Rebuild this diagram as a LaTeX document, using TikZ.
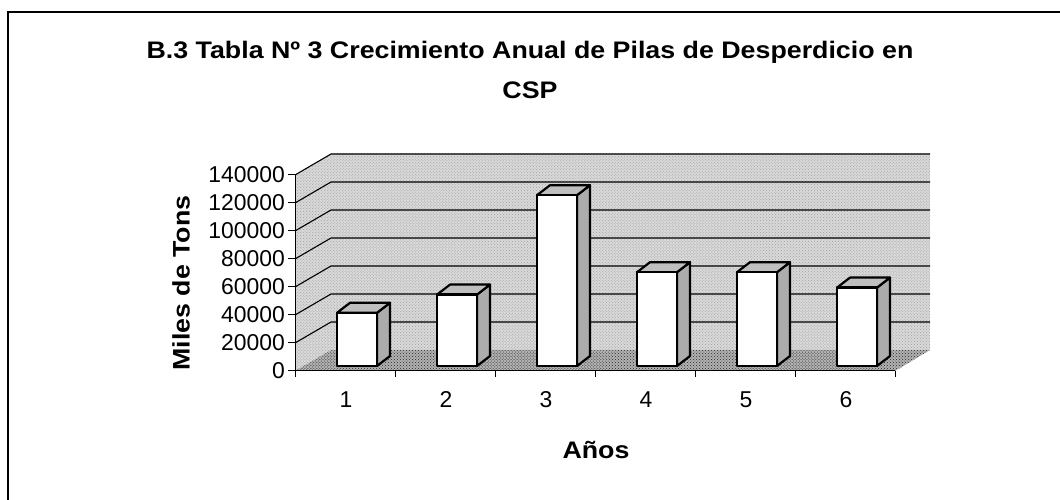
\documentclass[tikz,border=0pt]{standalone}
\usepackage{fontspec}
\setmainfont{Liberation Sans}
\usetikzlibrary{patterns}

\newcommand{\wide}[1]{\scalebox{1.12}[1]{#1}}

\tikzset{
    wall/.style={fill=gray!30, postaction={pattern=crosshatch dots, pattern color=gray!75}},
    floorpane/.style={fill=gray!60, postaction={pattern=crosshatch dots, pattern color=black!85}},
    barfront/.style={draw, line width=2.2bp, fill=white, line join=round},
    barside/.style={draw, line width=2.2bp, fill=gray!65, line join=round},
    bartop/.style={draw, line width=2.2bp, fill=gray!50, line join=round},
    gridline/.style={line width=1.1bp},
    ticklab/.style={font=\fontsize{23}{27}\selectfont, inner sep=0pt},
    axlab/.style={font=\fontsize{24}{28}\selectfont\bfseries, inner sep=0pt},
    charttitle/.style={font=\fontsize{24}{28}\selectfont\bfseries, inner sep=0pt}
}

\begin{document}
\begin{tikzpicture}[x=1bp, y=-1bp]
        \useasboundingbox (0,0) rectangle (1060,500);
        \draw[line width=1.2bp] (8,500) -- (8,12) -- (1060,12);

        \node[charttitle] (title) at (530,52) {\wide{B.3 Tabla Nº 3 Crecimiento Anual de Pilas de Desperdicio en}};
        \node[charttitle] (csp) at (530,90) {\wide{CSP}};

        % walls and floor
        \fill[wall] (331,154) rectangle (930,350);
        \fill[wall] (295,371) -- (295,175) -- (331,154) -- (331,350) -- cycle;
        \fill[floorpane] (295,371) -- (331,350) -- (930,350) -- (895,371) -- cycle;

        \foreach \k in {1,...,7} {
            \draw[gridline] (295,{371-28*\k}) -- (331,{350-28*\k}) -- (930,{350-28*\k});
        }

        % bars
        \foreach \i/\v in {1/38,2/51,3/122,4/67,5/67,6/56} {
            \pgfmathsetmacro\xl{237+100*\i}
            \pgfmathsetmacro\yt{366-1.4*\v}
            \draw[barside] ({\xl+40},366) -- ({\xl+53},356) -- ({\xl+53},{\yt-10}) -- ({\xl+40},\yt) -- cycle;
            \draw[bartop] (\xl,\yt) -- ({\xl+13},{\yt-10}) -- ({\xl+53},{\yt-10}) -- ({\xl+40},\yt) -- cycle;
            \draw[barfront] (\xl,366) rectangle ({\xl+40},\yt);
        }

        % axes
        \draw[line width=1bp] (295,175) -- (295,371) -- (895,371);
        \foreach \k/\t in {0/0,1/20000,2/40000,3/60000,4/80000,5/100000,6/120000,7/140000} {
            \draw[line width=1bp] (288,{371-28*\k}) -- (295,{371-28*\k});
            \node[ticklab, anchor=east] (y\k) at (285,{371-28*\k}) {\t};
        }
        \foreach \i in {0,...,6} {
            \draw[line width=1bp] ({295+100*\i},371) -- ({295+100*\i},377);
        }
        \foreach \i in {1,...,6} {
            \node[ticklab] (c\i) at ({246+100*\i},400) {\i};
        }

        \node[axlab, rotate=90] (ylab) at (181,283) {\wide{Miles de Tons}};
        \node[axlab] (xlab) at (596,450) {\wide{Años}};
\end{tikzpicture}
\end{document}
